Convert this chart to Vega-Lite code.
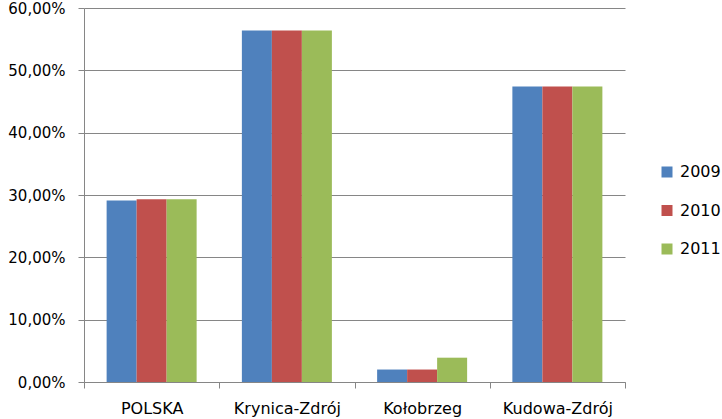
{
  "$schema": "https://vega.github.io/schema/vega-lite/v6.json",
  "autosize": {"type": "none"},
  "padding": {"left": 84, "top": 8, "right": 97, "bottom": 37},
  "width": 541,
  "height": 374,
  "background": "white",
  "config": {
    "font": "DejaVu Sans",
    "view": {"stroke": null},
    "axis": {"labelFont": "DejaVu Sans", "labelFontSize": 15, "labelColor": "#000000"}
  },
  "data": {
    "values": [
      {"miasto": "POLSKA", "rok": "2009", "wartosc": 0.291},
      {"miasto": "POLSKA", "rok": "2010", "wartosc": 0.293},
      {"miasto": "POLSKA", "rok": "2011", "wartosc": 0.293},
      {"miasto": "Krynica-Zdrój", "rok": "2009", "wartosc": 0.564},
      {"miasto": "Krynica-Zdrój", "rok": "2010", "wartosc": 0.564},
      {"miasto": "Krynica-Zdrój", "rok": "2011", "wartosc": 0.564},
      {"miasto": "Kołobrzeg", "rok": "2009", "wartosc": 0.020},
      {"miasto": "Kołobrzeg", "rok": "2010", "wartosc": 0.020},
      {"miasto": "Kołobrzeg", "rok": "2011", "wartosc": 0.039},
      {"miasto": "Kudowa-Zdrój", "rok": "2009", "wartosc": 0.474},
      {"miasto": "Kudowa-Zdrój", "rok": "2010", "wartosc": 0.474},
      {"miasto": "Kudowa-Zdrój", "rok": "2011", "wartosc": 0.474}
    ]
  },
  "mark": {"type": "bar"},
  "encoding": {
    "x": {
      "field": "miasto",
      "type": "nominal",
      "sort": ["POLSKA", "Krynica-Zdrój", "Kołobrzeg", "Kudowa-Zdrój"],
      "scale": {"paddingInner": 0, "paddingOuter": 0},
      "axis": {
        "title": null,
        "labelAngle": 0,
        "labelFontSize": 16,
        "tickBand": "extent",
        "tickSize": 6,
        "tickColor": "#868686",
        "domainColor": "#868686",
        "labelPadding": 12,
        "grid": false
      }
    },
    "xOffset": {
      "field": "rok",
      "type": "nominal",
      "scale": {"paddingInner": 0, "paddingOuter": 0.754}
    },
    "y": {
      "field": "wartosc",
      "type": "quantitative",
      "scale": {"domain": [0, 0.6], "nice": false},
      "axis": {
        "title": null,
        "values": [0, 0.1, 0.2, 0.3, 0.4, 0.5, 0.6],
        "labelExpr": "replace(format(datum.value, '.2%'), '.', ',')",
        "tickSize": 6,
        "tickColor": "#868686",
        "domainColor": "#868686",
        "gridColor": "#868686",
        "gridWidth": 1,
        "labelPadding": 13
      }
    },
    "color": {
      "field": "rok",
      "type": "nominal",
      "scale": {"domain": ["2009", "2010", "2011"], "range": ["#4F81BD", "#C0504D", "#9BBB59"]},
      "legend": {
        "title": null,
        "orient": "none",
        "legendX": 575,
        "legendY": 156,
        "padding": 0,
        "symbolType": "square",
        "symbolSize": 121,
        "symbolStrokeWidth": 0,
        "labelFontSize": 16,
        "labelFont": "DejaVu Sans",
        "labelColor": "#000000",
        "labelOffset": 5,
        "rowPadding": 22.5
      }
    }
  }
}
